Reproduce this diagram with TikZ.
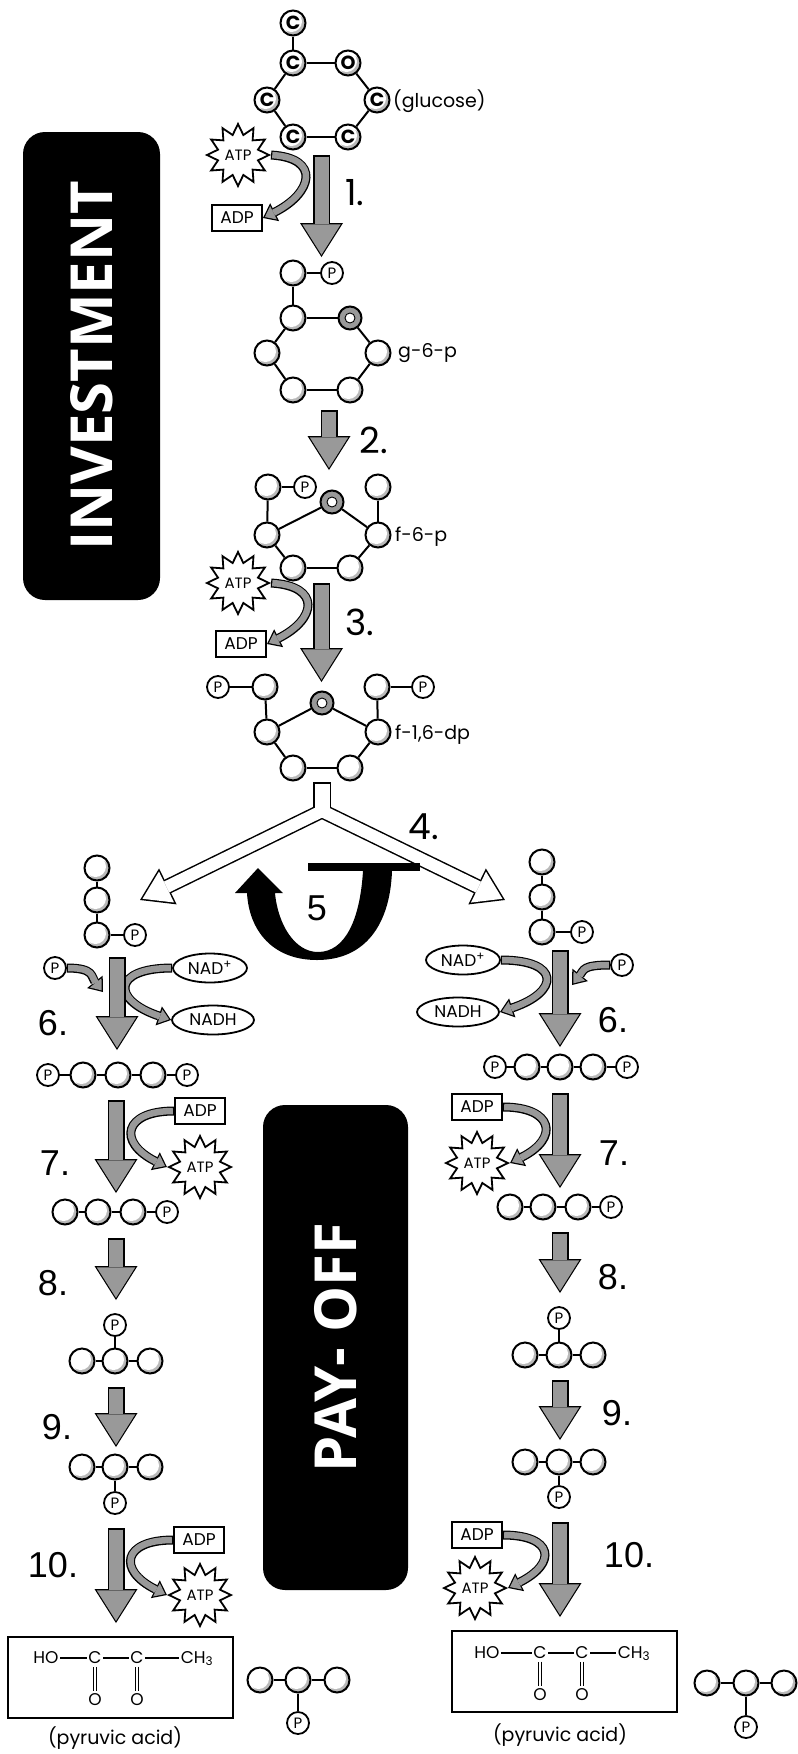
\documentclass[tikz,border=0pt]{standalone}
\usepackage{fontspec}
\newfontfamily\futfont{Poppins}
\newfontfamily\numfont{Liberation Sans}
\newfontfamily\boxfont{Open Sans}
\usetikzlibrary{arrows.meta,shapes.geometric}

\tikzset{
  atom/.style={circle, draw, line width=2pt, minimum size=25pt, inner sep=0pt, fill=white,
    path picture={\fill[gray!55] ([shift={(3pt,-3pt)}]path picture bounding box.center) circle (11pt);
      \fill[white] ([shift={(-1.5pt,1.5pt)}]path picture bounding box.center) circle (10.5pt);}},
  catom/.style={atom, font=\futfont\bfseries\fontsize{19}{19}\selectfont},
  oatom/.style={circle, draw, line width=2pt, fill=gray!80, minimum size=23pt, inner sep=0pt,
    path picture={\filldraw[fill=white, line width=.9pt] (path picture bounding box.center) circle (5pt);}},
  patom/.style={circle, draw, line width=1.8pt, fill=white, minimum size=22pt, inner sep=0pt, font=\futfont\fontsize{15}{15}\selectfont},
  atpstar/.style={star, star points=12, star point ratio=1.5, minimum size=62pt, inner sep=0pt, draw, line width=1.8pt, fill=white, font=\futfont\fontsize{15}{15}\selectfont},
  adpbox/.style={rectangle, draw, line width=2pt, fill=white, minimum width=50pt, minimum height=26pt, inner sep=0pt, font=\futfont\fontsize{17}{17}\selectfont},
  nadell/.style={ellipse, draw, line width=1.8pt, minimum width=74pt, minimum height=29pt, inner sep=0pt, font=\futfont\fontsize{17}{17}\selectfont},
  lbl/.style={anchor=west, inner sep=0pt, font=\futfont\fontsize{19}{19}\selectfont},
  stepf/.style={inner sep=0pt, font=\futfont\fontsize{36}{36}\selectfont},
  stepn/.style={inner sep=0pt, font=\numfont\fontsize{36}{36}\selectfont},
  phase/.style={fill=black, rounded corners=22pt, rotate=90, inner sep=0pt, text=white, font=\boxfont\bfseries\fontsize{58}{58}\selectfont},
  pyrbox/.style={rectangle, draw, line width=2.2pt, minimum width=225pt, minimum height=81pt},
  chem/.style={inner sep=1.5pt, text height=12pt, text depth=2pt, font=\futfont\fontsize{17}{17}\selectfont},
  bigarr/.style={draw=gray!80, line width=14pt, -{Triangle[length=30.5pt,width=38.5pt,line width=0pt]}, shorten >=2.2pt, shorten <=1.5pt,
    preaction={draw=black, line width=17pt, shorten >=0pt, shorten <=0pt, -{Triangle[length=34pt,width=43pt,line width=0pt]}}},
  curvarr/.style={draw=gray!80, line width=6.5pt, -{Triangle[length=9.6pt,width=14.8pt,line width=0pt]}, shorten >=2.1pt, shorten <=1.2pt,
    preaction={draw=black, line width=9pt, shorten >=0pt, shorten <=0pt, -{Triangle[length=13pt,width=20pt,line width=0pt]}}},
  splitarr/.style={draw=white, line width=12pt, {Triangle[length=26.7pt,width=34.4pt,line width=0pt]}-{Triangle[length=26.7pt,width=34.4pt,line width=0pt]}, shorten >=2.8pt, shorten <=2.8pt,
    preaction={draw=black, line width=15pt, shorten >=0pt, shorten <=0pt, {Triangle[length=31pt,width=40pt,line width=0pt]}-{Triangle[length=31pt,width=40pt,line width=0pt]}}}
}

\begin{document}
\begin{tikzpicture}[x=1pt,y=-1pt]

  \path[use as bounding box, fill=white] (0,0) rectangle (798,1754);

  % phases
  \node[phase, minimum width=468pt, minimum height=137pt] (invest) at (91.5,366) {INVESTMENT};
  \node[phase, minimum width=485pt, minimum height=145pt] (payoff) at (335.5,1347.5) {PAY- OFF};

  % investment molecules
  \node[catom] (g1) at (293,23)  {C};
  \node[catom] (g2) at (293,63)  {C};
  \node[catom] (g3) at (348,63)  {O};
  \node[catom] (g4) at (377,100) {C};
  \node[catom] (g5) at (348,137) {C};
  \node[catom] (g6) at (293,137) {C};
  \node[catom] (g7) at (267,100) {C};

  \node[atom]  (h1) at (293,273) {};
  \node[patom] (hp) at (332,273) {P};
  \node[atom]  (h2) at (293,318) {};
  \node[oatom] (h3) at (350,318) {};
  \node[atom]  (h4) at (378,353) {};
  \node[atom]  (h5) at (350,390) {};
  \node[atom]  (h6) at (293,390) {};
  \node[atom]  (h7) at (267,353) {};

  \node[atom]  (f1) at (268,487) {};
  \node[patom] (fp) at (305,487) {P};
  \node[atom]  (f8) at (378,487) {};
  \node[atom]  (f2) at (267,535) {};
  \node[oatom] (f3) at (332,502) {};
  \node[atom]  (f4) at (378,535) {};
  \node[atom]  (f5) at (350,568) {};
  \node[atom]  (f6) at (293,568) {};

  \node[patom] (dpl) at (218,687) {P};
  \node[atom]  (d1)  at (265,687) {};
  \node[oatom] (d3)  at (322,703) {};
  \node[atom]  (d8)  at (377,687) {};
  \node[patom] (dpr) at (423,687) {P};
  \node[atom]  (d2)  at (267,732) {};
  \node[atom]  (d4)  at (378,732) {};
  \node[atom]  (d5)  at (350,768) {};
  \node[atom]  (d6)  at (293,768) {};

  \node[lbl] (glc) at (393,101) {(glucose)};
  \node[lbl] (g6p) at (398,353) {g-6-p};
  \node[lbl] (f6p) at (395,537) {f-6-p};
  \node[lbl] (f16) at (395,735) {f-1,6-dp};

  % pay-off molecules, left
  \node[atom]  (tL1) at (97,868) {};
  \node[atom]  (tL2) at (97,900) {};
  \node[atom]  (tL3) at (97,935) {};
  \node[patom] (tLp) at (135,935) {P};
  \node[patom] (bL1) at (48,1075) {P};
  \node[atom]  (bL2) at (83,1075) {};
  \node[atom]  (bL3) at (118,1075) {};
  \node[atom]  (bL4) at (153,1075) {};
  \node[patom] (bL5) at (187,1075) {P};
  \node[atom]  (qL1) at (65,1212) {};
  \node[atom]  (qL2) at (98,1212) {};
  \node[atom]  (qL3) at (133,1212) {};
  \node[patom] (qLp) at (167,1212) {P};
  \node[patom] (rLp) at (115,1325) {P};
  \node[atom]  (rL1) at (82,1361) {};
  \node[atom]  (rL2) at (115,1361) {};
  \node[atom]  (rL3) at (150,1361) {};
  \node[atom]  (eL1) at (82,1467) {};
  \node[atom]  (eL2) at (115,1467) {};
  \node[atom]  (eL3) at (150,1467) {};
  \node[patom] (eLp) at (115,1503) {P};
  \node[atom]  (kL1) at (260,1680) {};
  \node[atom]  (kL2) at (298,1680) {};
  \node[atom]  (kL3) at (337,1680) {};
  \node[patom] (kLp) at (298,1723) {P};

  % pay-off molecules, right
  \node[atom]  (tR1) at (542,862) {};
  \node[atom]  (tR2) at (542,897) {};
  \node[atom]  (tR3) at (542,932) {};
  \node[patom] (tRp) at (582,932) {P};
  \node[patom] (bR1) at (495,1067) {P};
  \node[atom]  (bR2) at (527,1067) {};
  \node[atom]  (bR3) at (560,1067) {};
  \node[atom]  (bR4) at (593,1067) {};
  \node[patom] (bR5) at (627,1067) {P};
  \node[atom]  (qR1) at (510,1207) {};
  \node[atom]  (qR2) at (543,1207) {};
  \node[atom]  (qR3) at (578,1207) {};
  \node[patom] (qRp) at (611,1207) {P};
  \node[patom] (rRp) at (559,1318) {P};
  \node[atom]  (rR1) at (525,1355) {};
  \node[atom]  (rR2) at (559,1355) {};
  \node[atom]  (rR3) at (593,1355) {};
  \node[atom]  (eR1) at (525,1462) {};
  \node[atom]  (eR2) at (559,1462) {};
  \node[atom]  (eR3) at (593,1462) {};
  \node[patom] (eRp) at (559,1497) {P};
  \node[atom]  (kR1) at (707,1683) {};
  \node[atom]  (kR2) at (746,1683) {};
  \node[atom]  (kR3) at (784,1683) {};
  \node[patom] (kRp) at (746,1727) {P};

  % bonds
  \begin{scope}[every edge/.style={draw, line width=2pt}]
    \path (g1) edge (g2) (g2) edge (g3) (g3) edge (g4) (g4) edge (g5) (g5) edge (g6) (g6) edge (g7) (g7) edge (g2);
    \path (h1) edge (hp) (h1) edge (h2) (h2) edge (h3) (h3) edge (h4) (h4) edge (h5) (h5) edge (h6) (h6) edge (h7) (h7) edge (h2);
    \path (f1) edge (fp) (f1) edge (f2) (f8) edge (f4) (f2) edge (f3) (f3) edge (f4) (f4) edge (f5) (f5) edge (f6) (f6) edge (f2);
    \path (dpl) edge (d1) (d1) edge (d2) (d8) edge (dpr) (d8) edge (d4) (d2) edge (d3) (d3) edge (d4) (d4) edge (d5) (d5) edge (d6) (d6) edge (d2);
    \path (tL1) edge (tL2) (tL2) edge (tL3) (tL3) edge (tLp);
    \path (tR1) edge (tR2) (tR2) edge (tR3) (tR3) edge (tRp);
    \path (bL1) edge (bL2) (bL2) edge (bL3) (bL3) edge (bL4) (bL4) edge (bL5);
    \path (bR1) edge (bR2) (bR2) edge (bR3) (bR3) edge (bR4) (bR4) edge (bR5);
    \path (qL1) edge (qL2) (qL2) edge (qL3) (qL3) edge (qLp);
    \path (qR1) edge (qR2) (qR2) edge (qR3) (qR3) edge (qRp);
    \path (rLp) edge (rL2) (rL1) edge (rL2) (rL2) edge (rL3);
    \path (rRp) edge (rR2) (rR1) edge (rR2) (rR2) edge (rR3);
    \path (eL1) edge (eL2) (eL2) edge (eL3) (eL2) edge (eLp);
    \path (eR1) edge (eR2) (eR2) edge (eR3) (eR2) edge (eRp);
    \path (kL1) edge (kL2) (kL2) edge (kL3) (kL2) edge (kLp);
    \path (kR1) edge (kR2) (kR2) edge (kR3) (kR2) edge (kRp);
  \end{scope}

  % energy carriers
  \node[atpstar] (atp1) at (238,155) {ATP};
  \node[adpbox]  (adp1) at (237,218) {ADP};
  \node[atpstar] (atp3) at (238,583) {ATP};
  \node[adpbox]  (adp3) at (241,644) {ADP};

  \node[patom] (pL6) at (55,968) {P};
  \node[nadell] (nadL) at (210,968) {NAD\textsuperscript{+}};
  \node[nadell, minimum width=82pt] (nadhL) at (213,1020) {NADH};
  \node[adpbox]  (adpL7) at (200,1111) {ADP};
  \node[atpstar] (atpL7) at (200,1167) {ATP};
  \node[adpbox]  (adpL10) at (199,1540) {ADP};
  \node[atpstar] (atpL10) at (200,1595) {ATP};

  \node[patom] (pR6) at (622,965) {P};
  \node[nadell] (nadR) at (463,960) {NAD\textsuperscript{+}};
  \node[nadell, minimum width=82pt] (nadhR) at (458,1012) {NADH};
  \node[adpbox]  (adpR7) at (477,1107) {ADP};
  \node[atpstar] (atpR7) at (477,1163) {ATP};
  \node[adpbox]  (adpR10) at (477,1535) {ADP};
  \node[atpstar] (atpR10) at (475,1588) {ATP};

  % pyruvic acid
  \node[pyrbox] (pyrL) at (120.5,1677.5) {};
  \node[chem] (hoL) at (46,1658) {HO};
  \node[chem] (c1L) at (95,1658) {C};
  \node[chem] (c2L) at (137,1658) {C};
  \node[chem] (chL) at (197,1658) {CH\textsubscript{3}};
  \node[chem] (o1L) at (95,1700) {O};
  \node[chem] (o2L) at (137,1700) {O};
  \node[lbl, anchor=center] (pyrtL) at (115,1738) {(pyruvic acid)};

  \node[pyrbox] (pyrR) at (564.5,1671.5) {};
  \node[chem] (hoR) at (487,1653) {HO};
  \node[chem] (c1R) at (540,1653) {C};
  \node[chem] (c2R) at (582,1653) {C};
  \node[chem] (chR) at (634,1653) {CH\textsubscript{3}};
  \node[chem] (o1R) at (540,1695) {O};
  \node[chem] (o2R) at (582,1695) {O};
  \node[lbl, anchor=center] (pyrtR) at (560,1735) {(pyruvic acid)};

  \begin{scope}[line width=1.5pt]
    \draw (hoL) -- (c1L) -- (c2L) -- (chL);
    \draw (hoR) -- (c1R) -- (c2R) -- (chR);
    \draw[double, double distance=2pt, line width=1.1pt] (c1L) -- (o1L);
    \draw[double, double distance=2pt, line width=1.1pt] (c2L) -- (o2L);
    \draw[double, double distance=2pt, line width=1.1pt] (c1R) -- (o1R);
    \draw[double, double distance=2pt, line width=1.1pt] (c2R) -- (o2R);
  \end{scope}

  % step numbers
  \node[stepf] (s1) at (355,193) {1.};
  \node[stepf] (s2) at (374,440) {2.};
  \node[stepf] (s3) at (360,622) {3.};
  \node[stepf] (s4) at (424,827) {4.};
  \node[stepn] (s5) at (317,908) {5};
  \node[stepn] (sL6) at (53,1023) {6.};
  \node[stepn] (sR6) at (613,1020) {6.};
  \node[stepn] (sL7) at (55,1163) {7.};
  \node[stepn] (sR7) at (614,1153) {7.};
  \node[stepn] (sL8) at (53,1283) {8.};
  \node[stepn] (sR8) at (613,1277) {8.};
  \node[stepn] (sL9) at (57,1427) {9.};
  \node[stepn] (sR9) at (617,1413) {9.};
  \node[stepn] (sL10) at (53,1565) {10.};
  \node[stepn] (sR10) at (629,1555) {10.};

  % side reactions
  \coordinate (inL6) at (103,992);
  \coordinate (inR6) at (572,985);
  \draw[curvarr] (atp1.east) .. controls +(50,3) and +(50,-25) .. (adp1.east);
  \draw[curvarr] (atp3.east) .. controls +(50,3) and +(50,-25) .. (adp3.east);
  \draw[curvarr] (pL6.east) .. controls +(28,0) and +(-12,-15) .. (inL6);
  \draw[curvarr] (nadL.west) .. controls +(-60,0) and +(-60,-20) .. (nadhL.west);
  \draw[curvarr] (pR6.west) .. controls +(-28,0) and +(12,-15) .. (inR6);
  \draw[curvarr] (nadR.east) .. controls +(60,0) and +(60,-20) .. (nadhR.east);
  \draw[curvarr] (adpL7.west) .. controls +(-50,0) and +(-50,-25) .. (atpL7.west);
  \draw[curvarr] (adpR7.east) .. controls +(50,0) and +(50,-25) .. (atpR7.east);
  \draw[curvarr] (adpL10.west) .. controls +(-50,0) and +(-50,-25) .. (atpL10.west);
  \draw[curvarr] (adpR10.east) .. controls +(50,0) and +(50,-25) .. (atpR10.east);

  % main steps
  \coordinate (a1s) at (321.5,155);  \coordinate (a1e) at (321.5,257);
  \coordinate (a2s) at (329,410);    \coordinate (a2e) at (329,470);
  \coordinate (a3s) at (321.5,583);  \coordinate (a3e) at (321.5,682);
  \coordinate (aL6s) at (117,957);   \coordinate (aL6e) at (117,1050);
  \coordinate (aL7s) at (116,1100);  \coordinate (aL7e) at (116,1193);
  \coordinate (aL8s) at (116,1238);  \coordinate (aL8e) at (116,1300);
  \coordinate (aL9s) at (116,1387);  \coordinate (aL9e) at (116,1447);
  \coordinate (aL10s) at (116,1528); \coordinate (aL10e) at (116,1623);
  \coordinate (aR6s) at (560,950);   \coordinate (aR6e) at (560,1047);
  \coordinate (aR7s) at (560,1093);  \coordinate (aR7e) at (560,1188);
  \coordinate (aR8s) at (560,1232);  \coordinate (aR8e) at (560,1293);
  \coordinate (aR9s) at (560,1380);  \coordinate (aR9e) at (560,1440);
  \coordinate (aR10s) at (560,1522); \coordinate (aR10e) at (560,1617);
  \draw[bigarr] (a1s) -- (a1e);
  \draw[bigarr] (a2s) -- (a2e);
  \draw[bigarr] (a3s) -- (a3e);
  \draw[bigarr] (aL6s) -- (aL6e);
  \draw[bigarr] (aL7s) -- (aL7e);
  \draw[bigarr] (aL8s) -- (aL8e);
  \draw[bigarr] (aL9s) -- (aL9e);
  \draw[bigarr] (aL10s) -- (aL10e);
  \draw[bigarr] (aR6s) -- (aR6e);
  \draw[bigarr] (aR7s) -- (aR7e);
  \draw[bigarr] (aR8s) -- (aR8e);
  \draw[bigarr] (aR9s) -- (aR9e);
  \draw[bigarr] (aR10s) -- (aR10e);

  % split into two trioses
  \coordinate (split) at (322,811);
  \coordinate (tipL) at (140,900);
  \coordinate (tipR) at (505,900);
  \draw[splitarr] (tipL) -- (split) -- (tipR);
  \fill[white] (314.5,783.5) rectangle (329.5,813);
  \draw[line width=1.5pt] (313.75,807) -- (313.75,782.75) -- (330.25,782.75) -- (330.25,807);

  % step 5 loop
  \fill (308,863) rectangle (420,871);
  \fill (392,871) .. controls (390,925) and (365,960) .. (317,960)
    .. controls (272,960) and (249,930) .. (247,893) -- (235,893) -- (258,868) -- (283,893) -- (275,893)
    .. controls (278,925) and (295,952) .. (318,952) .. controls (345,952) and (360,920) .. (363,871) -- cycle;

\end{tikzpicture}
\end{document}
